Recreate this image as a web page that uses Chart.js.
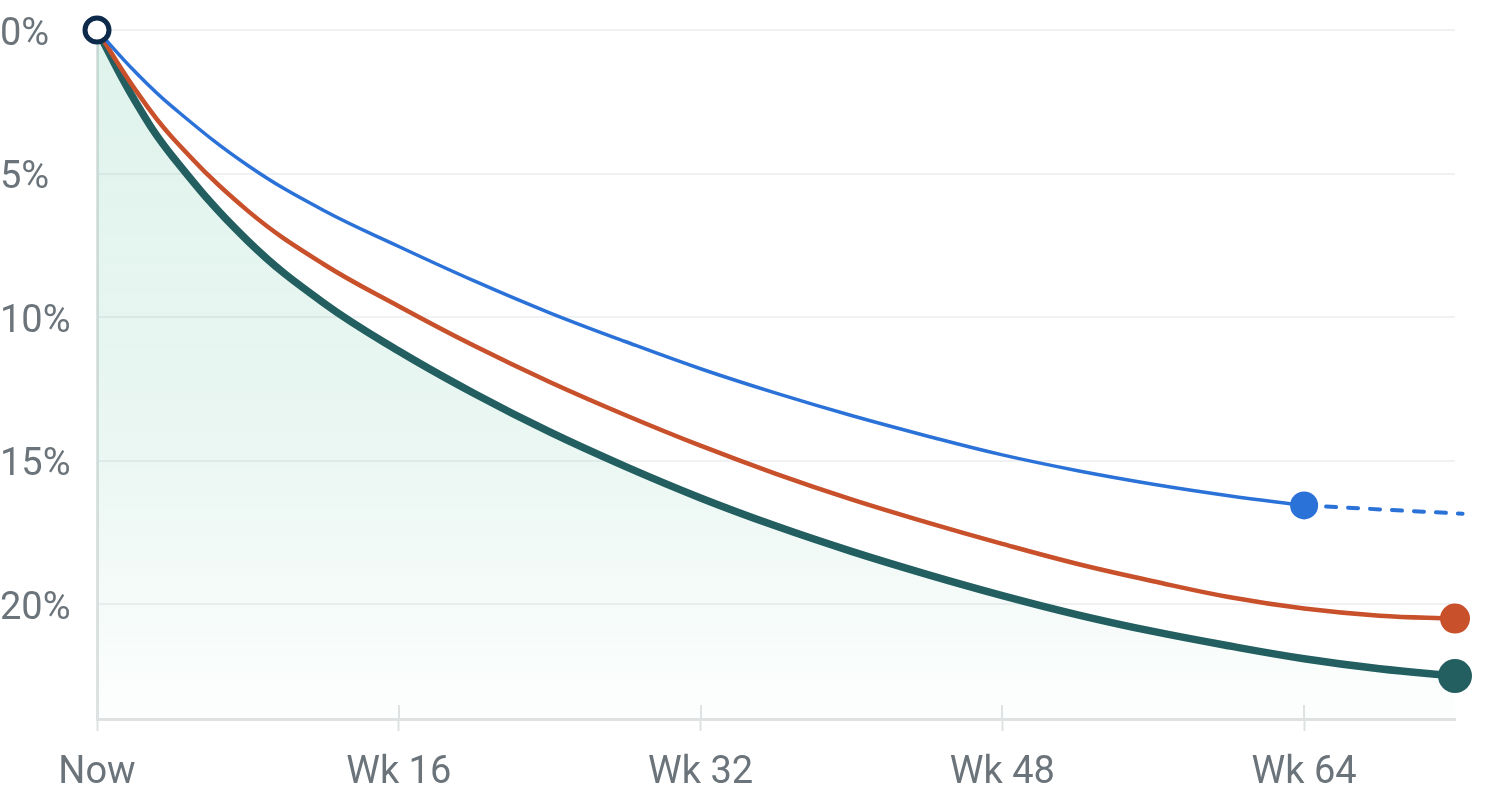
<!DOCTYPE html>
<html>
<head>
<meta charset="utf-8">
<script src="https://cdn.jsdelivr.net/npm/chart.js@4/dist/chart.umd.min.js"></script>
<style>
  html, body { margin: 0; padding: 0; background: #ffffff; }
  #wrap { width: 1494px; height: 795px; }
</style>
</head>
<body>
<div id="wrap"><canvas id="grafico"></canvas></div>
<script>
// Semanas (eje x)
const semanas = [0, 2, 4, 8, 12, 16, 20, 24, 28, 32, 36, 40, 44, 48, 52, 56, 60, 64, 68, 72];
const semanasAzul = [0, 2, 4, 8, 12, 16, 20, 24, 28, 32, 36, 40, 44, 48, 52, 56, 60, 64];

// Valores por serie (% de caída)
const valoresAzul = [0, 1.44, 2.68, 4.72, 6.28, 7.54, 8.74, 9.85, 10.85, 11.8, 12.65, 13.43, 14.14, 14.8, 15.35, 15.82, 16.22, 16.56];
const proyeccionAzulSemanas = [64, 72.4];
const proyeccionAzulValores = [16.56, 16.85];
const valoresNaranja = [0, 2.05, 3.75, 6.3, 8.15, 9.62, 11.0, 12.26, 13.41, 14.48, 15.46, 16.35, 17.15, 17.9, 18.6, 19.2, 19.75, 20.15, 20.4, 20.5];
const valoresVerde = [0, 2.45, 4.4, 7.35, 9.5, 11.18, 12.66, 14.0, 15.2, 16.3, 17.28, 18.16, 18.96, 19.7, 20.37, 20.95, 21.45, 21.9, 22.25, 22.5];

// Ticks
const ticksX = [0, 16, 32, 48, 64];
const ticksY = [0, 5, 10, 15, 20];
const maxX = 72;
const maxY = 24;

const puntos = (xs, ys) => xs.map((x, i) => ({ x: x, y: ys[i] }));
// Solo el último punto lleva marcador
const radioFinal = (n, r) => Array.from({ length: n }, (_, i) => (i === n - 1 ? r : 0));

const fuente = { family: 'Roboto, "Open Sans", sans-serif', size: 38 };
const gris = '#6b747a';

// Marcas del eje x que cruzan la línea base
const marcasCruzadas = {
  id: 'marcasCruzadas',
  afterDatasetsDraw(chart) {
    const { ctx, chartArea, scales } = chart;
    ctx.save();
    ctx.strokeStyle = '#dfe2e3';
    ctx.lineWidth = 2;
    ticksX.forEach(t => {
      const px = Math.round(scales.x.getPixelForValue(t));
      ctx.beginPath();
      ctx.moveTo(px, chartArea.bottom - 14);
      ctx.lineTo(px, chartArea.bottom);
      ctx.stroke();
    });
    ctx.restore();
  }
};

const canvas = document.getElementById('grafico');
new Chart(canvas, {
  type: 'line',
  data: {
    datasets: [
      {
        // marcador de inicio
        data: puntos([0], [0]),
        showLine: false,
        pointRadius: 12,
        pointBackgroundColor: '#ffffff',
        pointBorderColor: '#0d2a4b',
        pointBorderWidth: 5,
        clip: false
      },
      {
        data: puntos(semanasAzul, valoresAzul),
        borderColor: '#2b72d8',
        borderWidth: 3.5,
        tension: 0.4,
        pointRadius: radioFinal(semanasAzul.length, 14),
        pointBackgroundColor: '#2b72d8',
        pointBorderWidth: 0,
        clip: false
      },
      {
        data: puntos(proyeccionAzulSemanas, proyeccionAzulValores),
        borderColor: '#2b72d8',
        borderWidth: 4,
        borderDash: [10, 12],
        borderCapStyle: 'round',
        pointRadius: 0,
        clip: false
      },
      {
        data: puntos(semanas, valoresNaranja),
        borderColor: '#c8502b',
        borderWidth: 4.5,
        tension: 0.4,
        pointRadius: radioFinal(semanas.length, 15),
        pointBackgroundColor: '#c8502b',
        pointBorderWidth: 0,
        clip: false
      },
      {
        data: puntos(semanas, valoresVerde),
        borderColor: '#235f60',
        borderWidth: 7.5,
        tension: 0.4,
        pointRadius: radioFinal(semanas.length, 17),
        pointBackgroundColor: '#235f60',
        pointBorderWidth: 0,
        fill: { value: maxY },
        backgroundColor: function(context) {
          const area = context.chart.chartArea;
          if (!area) return 'rgba(80,185,150,0.15)';
          const g = context.chart.ctx.createLinearGradient(0, area.top, 0, area.bottom);
          g.addColorStop(0, 'rgba(80,185,150,0.18)');
          g.addColorStop(0.6, 'rgba(80,185,150,0.12)');
          g.addColorStop(1, 'rgba(80,185,150,0.01)');
          return g;
        },
        clip: false
      }
    ]
  },
  options: {
    responsive: true,
    maintainAspectRatio: false,
    animation: false,
    layout: { padding: { top: 30, right: 39, left: 0, bottom: 0 } },
    plugins: {
      legend: { display: false },
      tooltip: { enabled: false }
    },
    scales: {
      x: {
        type: 'linear',
        min: 0,
        max: maxX,
        afterBuildTicks: s => { s.ticks = ticksX.map(v => ({ value: v })); },
        afterFit: s => { s.height = 76; },
        grid: {
          drawOnChartArea: false,
          drawTicks: true,
          tickLength: 12,
          tickWidth: 2,
          tickColor: '#dfe2e3'
        },
        border: { color: '#dfe2e3', width: 3 },
        ticks: {
          padding: 20,
          maxRotation: 0,
          font: fuente,
          color: gris,
          callback: v => (v === 0 ? 'Now' : 'Wk ' + v)
        }
      },
      y: {
        type: 'linear',
        reverse: true,
        min: 0,
        max: maxY,
        afterBuildTicks: s => { s.ticks = ticksY.map(v => ({ value: v })); },
        afterFit: s => { s.width = 97; },
        grid: {
          color: '#f0f1f2',
          lineWidth: 2,
          drawTicks: false
        },
        border: { color: '#dfe2e3', width: 3 },
        ticks: {
          crossAlign: 'far',
          padding: 0,
          labelOffset: 5,
          font: fuente,
          color: gris,
          callback: v => v + '%'
        }
      }
    }
  },
  plugins: [marcasCruzadas]
});
</script>
</body>
</html>
